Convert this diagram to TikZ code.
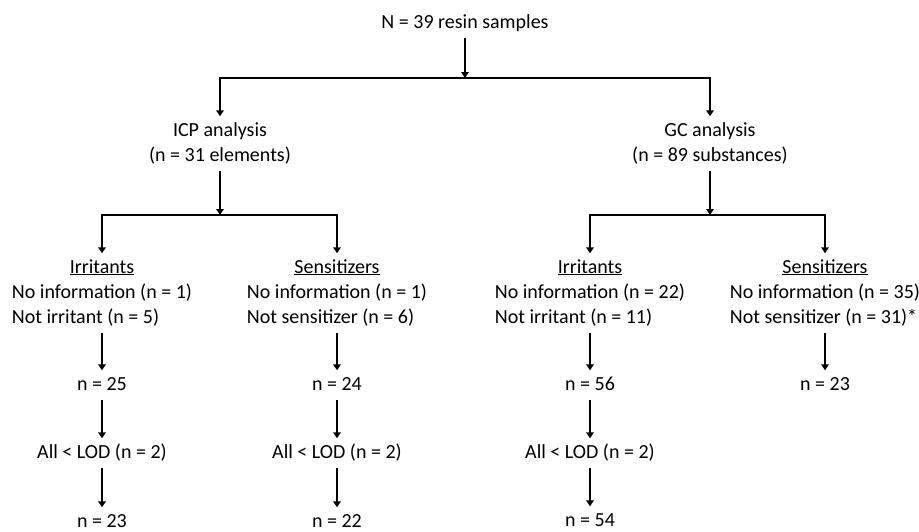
\documentclass[tikz,border=0pt]{standalone}
\usepackage{fontspec}
\setmainfont{Carlito}
\usepackage{tikz}
\usetikzlibrary{arrows.meta, positioning, calc}
\newcommand{\fsz}{\fontsize{20}{25}\selectfont}
\newcommand{\hd}[1]{\multicolumn{1}{@{}c@{}}{\underline{#1}}}

\begin{document}
\begin{tikzpicture}[x=1pt, y=-1pt,
    lbl/.style={anchor=base, inner xsep=0pt, inner ysep=2pt, font=\fsz,
        text height=17.5pt, text depth=7.5pt},
    lst/.style={lbl, text depth=2pt},
    blk/.style={anchor=base, inner xsep=0pt, inner ysep=2pt, font=\fsz},
    arr/.style={line width=1.9pt, line join=miter,
        -{Triangle[width=7.5pt,length=6pt]}}]
    \useasboundingbox (0,0) rectangle (919,531);

    % Top level
    \node[lbl] (title) at (465,28) {N = 39 resin samples};
    \coordinate (jTop) at (465,78);
    \node[blk] (icp) at (220,136) {\begin{tabular}[t]{@{}c@{}}ICP analysis\\(n = 31 elements)\end{tabular}};
    \node[blk] (gc) at (710,136) {\begin{tabular}[t]{@{}c@{}}GC analysis\\(n = 89 substances)\end{tabular}};

    \draw[arr] (title) -- (jTop);
    \draw[arr] (jTop) -| (icp);
    \draw[arr] (jTop) -| (gc);

    % Second split
    \coordinate (jL) at (220,215);
    \coordinate (jR) at (710,215);
    \node[blk] (irrL) at (102,273) {\begin{tabular}[t]{@{}l@{}}\hd{Irritants}\\No information (n = 1)\\Not irritant (n = 5)\end{tabular}};
    \node[blk] (sensL) at (337,273) {\begin{tabular}[t]{@{}l@{}}\hd{Sensitizers}\\No information (n = 1)\\Not sensitizer (n = 6)\end{tabular}};
    \node[blk] (irrR) at (590,273) {\begin{tabular}[t]{@{}l@{}}\hd{Irritants}\\No information (n = 22)\\Not irritant (n = 11)\end{tabular}};
    \node[blk] (sensR) at (825,273) {\begin{tabular}[t]{@{}l@{}}\hd{Sensitizers}\\No information (n = 35)\\Not sensitizer (n = 31)*\end{tabular}};

    \draw[arr] (icp) -- (jL);
    \draw[arr] (jL) -| (irrL);
    \draw[arr] (jL) -| (sensL);
    \draw[arr] (gc) -- (jR);
    \draw[arr] (jR) -| (irrR);
    \draw[arr] (jR) -| (sensR);

    % ICP columns
    \node[lbl] (nL1) at (102,390) {n = 25};
    \node[lbl] (lodL) at (102,458) {All < LOD (n = 2)};
    \node[lst] (nL2) at (102,527) {n = 23};
    \node[lbl] (nS1) at (337,390) {n = 24};
    \node[lbl] (lodS) at (337,458) {All < LOD (n = 2)};
    \node[lst] (nS2) at (337,527) {n = 22};

    % GC columns
    \node[lbl] (nR1) at (590,390) {n = 56};
    \node[lbl] (lodR) at (590,458) {All < LOD (n = 2)};
    \node[lst] (nR2) at (590,526) {n = 54};
    \node[lbl] (nT1) at (825,390) {n = 23};

    \draw[arr] (irrL) -- (nL1);
    \draw[arr] (nL1) -- (lodL);
    \draw[arr] (lodL) -- (nL2);
    \draw[arr] (sensL) -- (nS1);
    \draw[arr] (nS1) -- (lodS);
    \draw[arr] (lodS) -- (nS2);
    \draw[arr] (irrR) -- (nR1);
    \draw[arr] (nR1) -- (lodR);
    \draw[arr] (lodR) -- (nR2);
    \draw[arr] (sensR) -- (nT1);
\end{tikzpicture}
\end{document}
